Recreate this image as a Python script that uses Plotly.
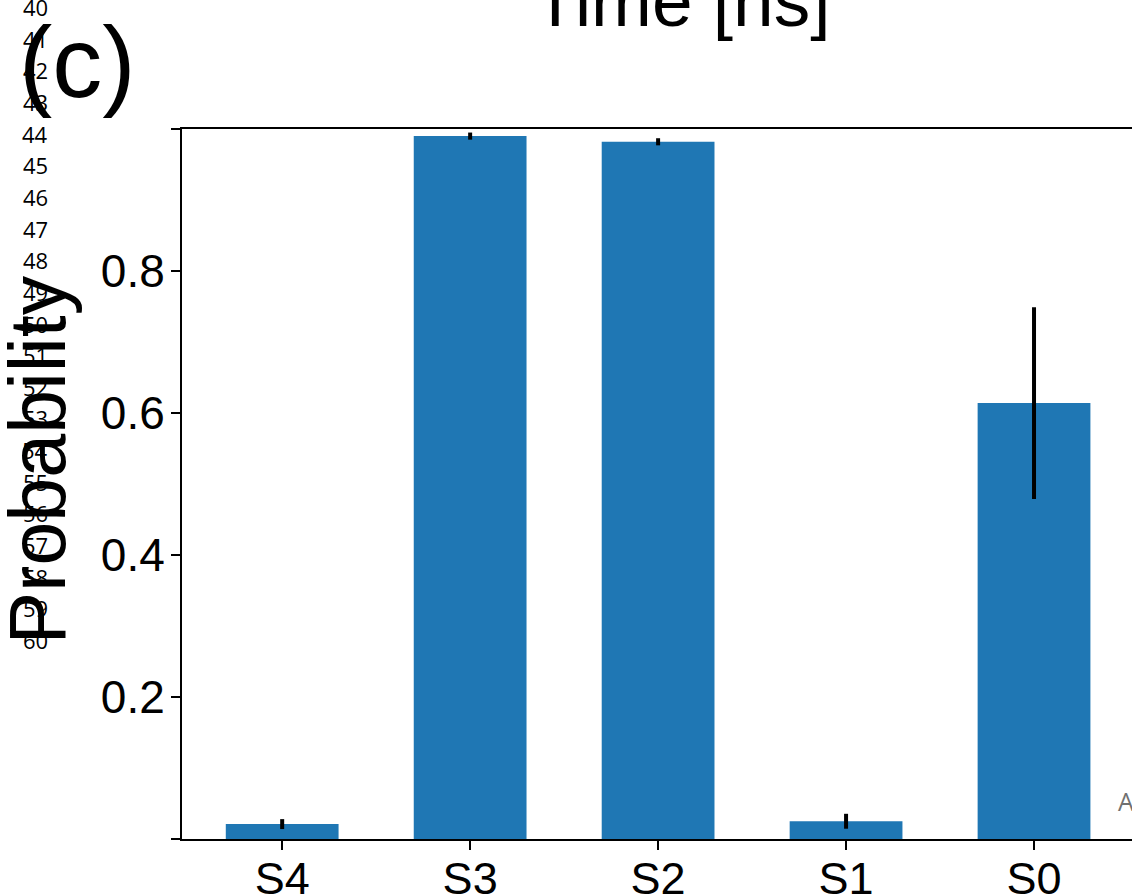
import plotly.graph_objects as go

# ---- data ----
states = ["S4", "S3", "S2", "S1", "S0"]
probability = [0.021, 0.990, 0.982, 0.025, 0.614]
prob_error = [0.007, 0.005, 0.005, 0.0105, 0.135]
ytick_vals = [0.0, 0.2, 0.4, 0.6, 0.8, 1.0]
ytick_text = ["", "0.2", "0.4", "0.6", "0.8", ""]
line_numbers = [40, 41, 42, 43, 44, 45, 46, 47, 48, 49, 50,
                51, 52, 53, 54, 55, 56, 57, 58, 59, 60]

W, H = 1132, 895
L, R, T, B = 181.5, 0, 129, H - 839
PW = W - L - R
PH = H - T - B


def px_x(x):
    return (x - L) / PW


def px_y(y):
    return (H - B - y) / PH


fig = go.Figure()
fig.add_trace(go.Bar(
    x=states, y=probability,
    marker=dict(color="#1f77b4", line=dict(width=0)),
    width=0.6,
    error_y=dict(type="data", array=prob_error, visible=True,
                 color="black", thickness=4, width=0),
))

font_main = "Liberation Sans, Arial, Helvetica, sans-serif"

annotations = []
for i, n in enumerate(line_numbers):
    annotations.append(dict(
        text=str(n), xref="paper", yref="paper",
        x=px_x(34.5), y=px_y(7 + i * 31.65), xanchor="center", yanchor="middle",
        showarrow=False, font=dict(family="Open Sans, Noto Sans, sans-serif", size=22, color="black"),
    ))
annotations.append(dict(
    text="(c)", xref="paper", yref="paper", x=px_x(77), y=px_y(62),
    xanchor="center", yanchor="middle", showarrow=False,
    font=dict(family=font_main, size=100, color="black"),
))
annotations.append(dict(
    text="Time [ns]", xref="paper", yref="paper", x=px_x(681), y=px_y(0),
    xanchor="center", yanchor="middle", showarrow=False,
    font=dict(family=font_main, size=73, color="black"),
))
annotations.append(dict(
    text="Probability", xref="paper", yref="paper", x=px_x(36), y=px_y(460),
    xanchor="center", yanchor="middle", textangle=-90, showarrow=False,
    font=dict(family=font_main, size=79, color="black"),
))
annotations.append(dict(
    text="A", xref="paper", yref="paper", x=px_x(1116), y=px_y(801),
    xanchor="left", yanchor="middle", showarrow=False,
    font=dict(family="Open Sans, Noto Sans, sans-serif", size=25, color="#707070"),
))

x_right = 4 + (W - 1034) / 188.0

fig.update_layout(
    width=W, height=H,
    margin=dict(l=L, r=R, t=T, b=B, pad=0, autoexpand=False),
    paper_bgcolor="white", plot_bgcolor="white",
    showlegend=False,
    annotations=annotations,
    xaxis=dict(
        range=[-0.533, x_right], showline=True, linecolor="black", linewidth=2,
        mirror=True, ticks="outside", ticklen=9, tickwidth=2, tickcolor="black",
        showgrid=False, zeroline=False, automargin=False, ticklabelstandoff=-10,
        tickfont=dict(family=font_main, size=45, color="black"),
    ),
    yaxis=dict(
        range=[0, 1.0], showline=True, linecolor="black", linewidth=2,
        mirror=False, ticks="outside", ticklen=9, tickwidth=2, tickcolor="black",
        tickvals=ytick_vals, ticktext=ytick_text, ticklabelstandoff=-3,
        showgrid=False, zeroline=False, automargin=False,
        tickfont=dict(family=font_main, size=46, color="black"),
    ),
)

fig.write_html(
    "out.html",
    config={"displayModeBar": False},
    post_script="document.body.style.margin='0';document.body.style.overflow='hidden';",
)
